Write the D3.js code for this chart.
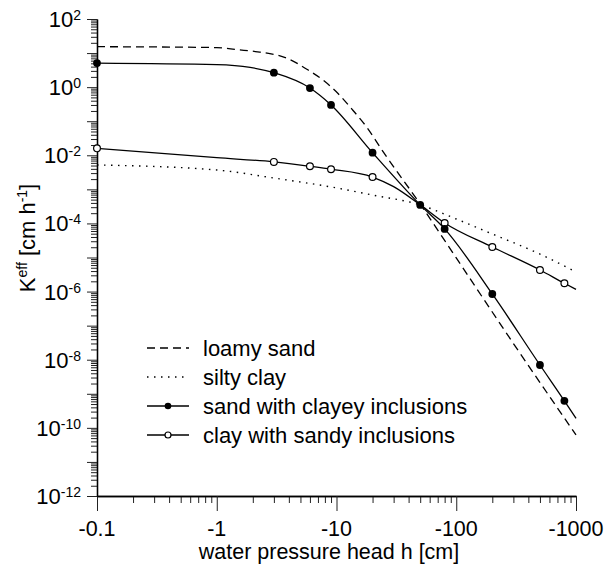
<!DOCTYPE html>
<html>
<head>
<meta charset="utf-8">
<script src="https://cdn.jsdelivr.net/npm/d3@7"></script>
<style>
  body { margin: 0; background: #fff; }
  text { font-family: "Liberation Sans", Arial, sans-serif; fill: #000; }
</style>
</head>
<body>
<svg id="chart" width="606" height="574"></svg>
<script>
// tick values / labels
const xTickValues = [-0.1, -1, -10, -100, -1000];
const xTickLabels = ["-0.1", "-1", "-10", "-100", "-1000"];
const yTickExponents = [2, 0, -2, -4, -6, -8, -10, -12];

// loamy sand (dashed)
const loamyH = [-0.1, -1, -1.5, -2.1, -3.9, -5.8, -7.7, -10.3, -13.7, -18, -24.4, -50, -100, -300, -1000];
const loamyK = [15.4, 14.5, 12.5, 11.1, 6.9, 3.18, 1.62, 0.65, 0.21, 0.065, 0.013, 3.7e-4, 9.7e-6, 3.0e-8, 6.2e-11];

// silty clay (dotted)
const siltyH = [-0.1, -1, -3, -10, -20, -50, -100, -200, -500, -1000];
const siltyK = [5.2e-3, 3.7e-3, 2.15e-3, 1.1e-3, 6.8e-4, 3.5e-4, 1.35e-4, 4.9e-5, 1.26e-5, 3.75e-6];

// sand with clayey inclusions (filled dots)
const sandH = [-0.1, -1, -1.9, -3, -6, -9, -20, -50, -80, -200, -500, -800, -1000];
const sandK = [5.1, 4.6, 3.8, 2.65, 0.94, 0.30, 0.0119, 3.5e-4, 6.9e-5, 8.5e-7, 7e-9, 6.2e-10, 1.9e-10];
const sandMarkH = [-0.1, -3, -6, -9, -20, -50, -80, -200, -500, -800];
const sandMarkK = [5.1, 2.65, 0.94, 0.30, 0.0119, 3.5e-4, 6.9e-5, 8.5e-7, 7e-9, 6.2e-10];

// clay with sandy inclusions (open dots)
const clayH = [-0.1, -1, -3, -6, -9, -20, -30, -50, -80, -200, -500, -800, -1000];
const clayK = [0.016, 8.5e-3, 6.4e-3, 4.75e-3, 3.9e-3, 2.3e-3, 1.2e-3, 3.5e-4, 1.03e-4, 2.03e-5, 4.3e-6, 1.75e-6, 1.16e-6];
const clayMarkH = [-0.1, -3, -6, -9, -20, -80, -200, -500, -800];
const clayMarkK = [0.016, 6.4e-3, 4.75e-3, 3.9e-3, 2.3e-3, 1.03e-4, 2.03e-5, 4.3e-6, 1.75e-6];

const legendLabels = ["loamy sand", "silty clay", "sand with clayey inclusions", "clay with sandy inclusions"];

const svg = d3.select("#chart");
const plotLeft = 97, plotRight = 576, plotTop = 19, plotBottom = 496;

const x = d3.scaleLog().domain([0.1, 1000]).range([plotLeft, plotRight]);
const y = d3.scaleLog().domain([1e-12, 1e2]).range([plotBottom, plotTop]);

const zip = (hs, ks) => hs.map((h, i) => ({ h: h, k: ks[i] }));

// minor ticks 2..9 for each decade
const minorX = [];
for (let e = -1; e < 3; e++) for (let m = 2; m <= 9; m++) minorX.push(m * Math.pow(10, e));
const minorY = [];
for (let e = -12; e < 2; e++) for (let m = 2; m <= 9; m++) minorY.push(m * Math.pow(10, e));
const majorY = d3.range(-12, 3).map(e => Math.pow(10, e));

// axes
const gx = svg.append("g").attr("transform", `translate(0,${plotBottom})`);
gx.call(d3.axisBottom(x).tickValues(minorX).tickSize(7).tickSizeOuter(0).tickFormat(""));
gx.append("g").call(d3.axisBottom(x).tickValues(xTickValues.map(v => -v)).tickSize(15).tickSizeOuter(0).tickFormat(""));

const gy = svg.append("g").attr("transform", `translate(${plotLeft},0)`);
gy.call(d3.axisLeft(y).tickValues(minorY).tickSize(6).tickSizeOuter(0).tickFormat(""));
gy.append("g").call(d3.axisLeft(y).tickValues(majorY).tickSize(10).tickSizeOuter(0).tickFormat(""));

svg.selectAll(".domain").attr("stroke", "#000").attr("stroke-width", 1.3);
svg.selectAll(".tick line").attr("stroke", "#222").attr("stroke-width", 1);

// x tick labels
svg.append("g").selectAll("text")
  .data(xTickValues)
  .join("text")
  .attr("x", d => x(-d))
  .attr("y", 536)
  .attr("text-anchor", "middle")
  .style("font-size", "21.5px")
  .text((d, i) => xTickLabels[i]);

// y tick labels with superscript
const yl = svg.append("g").selectAll("text")
  .data(yTickExponents)
  .join("text")
  .attr("x", 81)
  .attr("y", d => y(Math.pow(10, d)) + 8)
  .attr("text-anchor", "end")
  .style("font-size", "22px");
yl.append("tspan").text("10");
yl.append("tspan").attr("dy", -7).style("font-size", "14px").text(d => String(d));

// axis titles
svg.append("text")
  .attr("x", 329).attr("y", 559)
  .attr("text-anchor", "middle")
  .style("font-size", "21.5px")
  .text("water pressure head h [cm]");

const yt = svg.append("text")
  .attr("transform", "translate(35,238) rotate(-90)")
  .attr("text-anchor", "middle")
  .style("font-size", "22px");
yt.append("tspan").text("K");
yt.append("tspan").attr("dy", -8).style("font-size", "14px").text("eff");
yt.append("tspan").attr("dy", 8).text(" [cm h");
yt.append("tspan").attr("dy", -8).style("font-size", "14px").text("-1");
yt.append("tspan").attr("dy", 8).text("]");

// curves
const line = d3.line().x(d => x(-d.h)).y(d => y(d.k)).curve(d3.curveMonotoneX);

svg.append("path").datum(zip(loamyH, loamyK))
  .attr("d", line).attr("fill", "none").attr("stroke", "#000")
  .attr("stroke-width", 1.3).attr("stroke-dasharray", "8,5");
svg.append("path").datum(zip(siltyH, siltyK))
  .attr("d", line).attr("fill", "none").attr("stroke", "#000")
  .attr("stroke-width", 1.4).attr("stroke-dasharray", "1.5,5.5");
svg.append("path").datum(zip(clayH, clayK))
  .attr("d", line).attr("fill", "none").attr("stroke", "#000").attr("stroke-width", 1.3);
svg.append("path").datum(zip(sandH, sandK))
  .attr("d", line).attr("fill", "none").attr("stroke", "#000").attr("stroke-width", 1.3);

svg.append("g").selectAll("circle")
  .data(zip(clayMarkH, clayMarkK))
  .join("circle")
  .attr("cx", d => x(-d.h)).attr("cy", d => y(d.k)).attr("r", 3.4)
  .attr("fill", "#fff").attr("stroke", "#000").attr("stroke-width", 1.2);
svg.append("g").selectAll("circle")
  .data(zip(sandMarkH, sandMarkK))
  .join("circle")
  .attr("cx", d => x(-d.h)).attr("cy", d => y(d.k)).attr("r", 3.9)
  .attr("fill", "#000");

// legend
const lg = svg.append("g");
const rowY = i => 348 + i * 29;
legendLabels.forEach((lab, i) => {
  const l = lg.append("line")
    .attr("x1", 147).attr("x2", 189).attr("y1", rowY(i)).attr("y2", rowY(i))
    .attr("stroke", "#000").attr("stroke-width", 1.3);
  if (i === 0) l.attr("stroke-dasharray", "8,5");
  if (i === 1) l.attr("stroke-dasharray", "1.5,5.5").attr("stroke-width", 1.4);
  if (i === 2) lg.append("circle").attr("cx", 168).attr("cy", rowY(i)).attr("r", 3.3).attr("fill", "#000");
  if (i === 3) lg.append("circle").attr("cx", 168).attr("cy", rowY(i)).attr("r", 3)
    .attr("fill", "#fff").attr("stroke", "#000").attr("stroke-width", 1.2);
  lg.append("text")
    .attr("x", 203).attr("y", rowY(i) + 8)
    .style("font-size", "22px")
    .text(lab);
});
</script>
</body>
</html>
